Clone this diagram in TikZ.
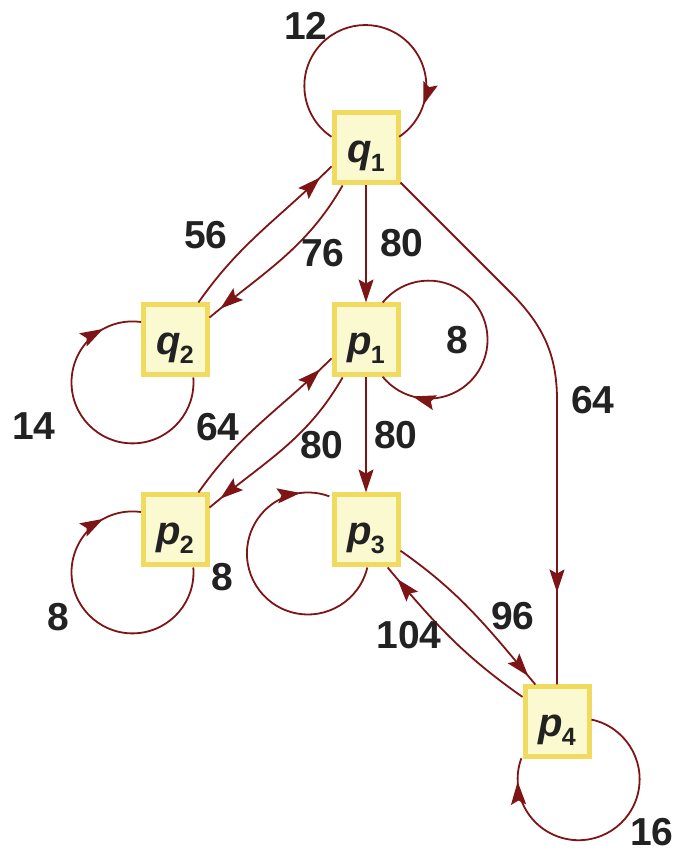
\documentclass[tikz,border=0pt]{standalone}
\usepackage{fontspec}
\setmainfont{Liberation Sans}
\usetikzlibrary{arrows.meta,decorations.markings}

\definecolor{edgecol}{RGB}{125,20,22}
\definecolor{boxfill}{RGB}{250,249,208}
\definecolor{boxline}{RGB}{240,218,96}
\definecolor{inkcol}{RGB}{34,34,34}

% vertex name with an upright subscript index
\newcommand\vlab[2]{#1\kern-1pt\raisebox{-9pt}{\fontsize{25}{27}\selectfont\bfseries\upshape #2}}

\tikzset{
  vert/.style={rectangle, draw=boxline, fill=boxfill, line width=5pt,
    minimum width=64pt, minimum height=70pt, inner sep=0pt,
    text height=38pt, text depth=9pt, text=inkcol,
    font=\fontsize{40}{42}\selectfont\bfseries\itshape},
  wlabel/.style={text=inkcol, inner sep=0pt,
    font=\fontsize{39}{41}\selectfont\bfseries},
  link/.style={draw=edgecol, line width=1.8pt},
  arrowat/.style={postaction={decorate, decoration={markings,
    mark=at position #1 with {\arrow{>}}}}}
}

\begin{document}
\begin{tikzpicture}[x=1pt,y=1pt,>={Stealth[length=23pt,width=15pt,inset=4pt]}]
\useasboundingbox (0,0) rectangle (675,852);

% vertices
\node[vert] (q1) at (366,704) {\vlab{q}{1}};
\node[vert] (q2) at (175,512) {\vlab{q}{2}};
\node[vert] (p1) at (366,512) {\vlab{p}{1}};
\node[vert] (p2) at (175,322) {\vlab{p}{2}};
\node[vert] (p3) at (366,322) {\vlab{p}{3}};
\node[vert] (p4) at (557,130) {\vlab{p}{4}};

% straight edges
\draw[link,->] (q1) -- (p1);
\draw[link,->] (p1) -- (p3);

% paired edges
\draw[link,arrowat=-16pt] (q2.58.8) to[out=55,in=225] (q1.208);
\draw[link,arrowat=-14pt] (q1.238) to[out=-120,in=40] (q2.33);
\draw[link,arrowat=-16pt] (p2.58.8) to[out=55,in=225] (p1.208);
\draw[link,arrowat=-14pt] (p1.238) to[out=-120,in=40] (p2.33);
\draw[link,arrowat=-11pt] (p3.-31.4) to[out=-35,in=130] (p4.120.7);
\draw[link,arrowat=-15pt] (p4.144.5) to[out=145,in=-50] (p3.-60);

% long edge q1 -> p4
\coordinate (k1) at (510,560);
\coordinate (k2) at (557,452);
\draw[link,arrowat=-92pt] (q1.-45) -- (k1) to[out=-45,in=90] (k2) -- (p4.north);

% self loops
\draw[link,arrowat=0.87] (q1.162) arc[start angle=236.3,end angle=-56.3,radius=61];
\draw[link,arrowat=0.87] (q2.-64.4) arc[start angle=4.6,end angle=-278,radius=61];
\draw[link,arrowat=0.87] (p2.-64.4) arc[start angle=4.6,end angle=-278,radius=61];
\draw[link,arrowat=0.875] (p1.66.6) arc[start angle=141,end angle=-141,radius=59];
\draw[link,arrowat=0.9] (p3.-88) arc[start angle=-13.3,end angle=-290.5,radius=61];
\draw[link,arrowat=0.92] (p4.4.8) arc[start angle=77.8,end angle=-200,radius=61];

% weights
\node[wlabel] (w12) at (306,826) {12};
\node[wlabel] (w56) at (206,617) {56};
\node[wlabel] (w76) at (323,599) {76};
\node[wlabel] (w80a) at (402,609) {80};
\node[wlabel] (w8a) at (457,512) {8};
\node[wlabel] (w64a) at (593,452) {64};
\node[wlabel] (w14) at (34,426) {14};
\node[wlabel] (w64b) at (218,425) {64};
\node[wlabel] (w80b) at (322,407) {80};
\node[wlabel] (w80c) at (396,417) {80};
\node[wlabel] (w8b) at (58,235) {8};
\node[wlabel] (w8c) at (222,275) {8};
\node[wlabel] (w104) at (409,217) {104};
\node[wlabel] (w96) at (513,236) {96};
\node[wlabel] (w16) at (652,20) {16};
\end{tikzpicture}
\end{document}
